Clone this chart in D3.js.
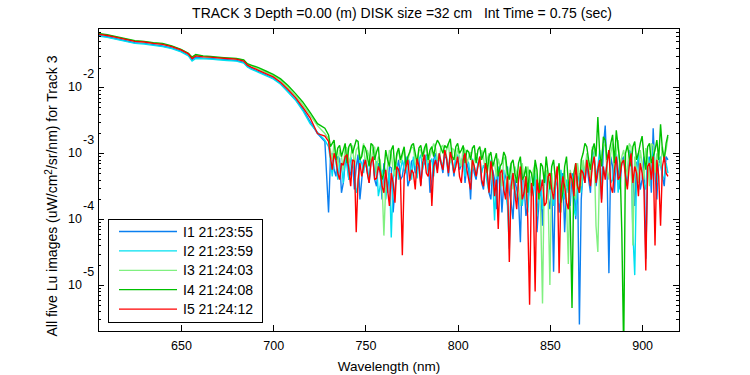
<!DOCTYPE html>
<html>
<head>
<meta charset="utf-8">
<script src="https://cdn.jsdelivr.net/npm/d3@7"></script>
<style>
body { margin: 0; background: #fff; }
text { font-family: "Liberation Sans", Arial, sans-serif; font-size: 12px; fill: #000; }
</style>
</head>
<body>
<svg id="chart" width="750" height="375"></svg>
<script>
// wavelengths (nm)
var wl = [605,610,615,620,625,630,635,640,645,650,654,656,658,662,666,670,675,680,684,686,
  688,692,696,700,704,708,712,716,720,724,728,
  730,731,732,733,734,735,736,737,738,739,
  740,741,742,743,744,745,746,747,748,749,
  750,751,752,753,754,755,756,757,758,759,
  760,761,762,763,764,765,766,767,768,769,
  770,771,772,773,774,775,776,777,778,779,
  780,781,782,783,784,785,786,787,788,789,
  790,791,792,793,794,795,796,797,798,799,
  800,801,802,803,804,805,806,807,808,809,
  810,811,812,813,814,815,816,817,818,819,
  820,821,822,823,824,825,826,827,828,829,
  830,831,832,833,834,835,836,837,838,839,
  840,841,842,843,844,845,846,847,848,849,
  850,851,852,853,854,855,856,857,858,859,
  860,861,862,863,864,865,866,867,868,869,
  870,871,872,873,874,875,876,877,878,879,
  880,881,882,883,884,885,886,887,888,889,
  890,891,892,893,894,895,896,897,898,899,
  900,901,902,903,904,905,906,907,908,909,
  910,911,912,913,914];

// log10 of Lu for each image (uW/cm^2/sr/nm)
var lu1 = [-1.21,-1.23,-1.26,-1.29,-1.32,-1.33,-1.35,-1.37,-1.40,-1.45,-1.51,-1.58,-1.54,-1.555,-1.56,-1.57,-1.58,-1.59,-1.62,-1.68,
  -1.71,-1.76,-1.81,-1.86,-1.94,-2.06,-2.18,-2.33,-2.52,-2.70,-2.82,
  -3.90,-3.10,-3.00,-3.25,-3.35,-3.05,-3.08,-3.60,-3.45,-3.15,
  -3.05,-3.40,-3.30,-3.12,-3.55,-3.20,-3.02,-3.70,-3.40,-3.10,
  -3.12,-3.28,-3.45,-3.10,-3.05,-3.40,-3.50,-3.15,-3.30,-3.70,
  -3.15,-3.35,-3.60,-3.20,-3.22,-3.90,-3.55,-3.25,-3.10,-3.40,
  -3.35,-3.15,-3.05,-3.50,-3.40,-3.12,-3.10,-3.30,-3.25,-3.08,
  -3.48,-3.20,-3.15,-3.02,-3.05,-3.60,-3.42,-3.10,-3.00,-3.25,
  -3.05,-3.15,-3.30,-3.00,-3.10,-3.35,-3.02,-3.12,-3.35,-3.05,
  -3.08,-3.25,-3.18,-3.02,-3.45,-3.15,-3.25,-3.70,-3.12,-3.30,
  -3.40,-3.15,-3.10,-3.45,-3.55,-3.20,-3.30,-3.60,-3.70,-3.25,
  -3.40,-3.85,-3.22,-3.30,-3.90,-3.45,-3.35,-3.20,-3.60,-3.75,
  -4.00,-3.40,-3.55,-3.70,-4.35,-3.30,-3.45,-3.95,-3.80,-3.35,
  -3.60,-3.40,-3.35,-4.20,-3.75,-3.50,-4.10,-3.30,-3.40,-3.65,
  -3.85,-3.45,-4.80,-3.35,-3.40,-3.90,-3.65,-3.30,-4.20,-3.55,
  -3.50,-3.80,-3.30,-3.45,-4.00,-3.35,-5.60,-3.70,-3.25,-3.45,
  -3.15,-3.40,-3.60,-2.95,-3.05,-3.50,-3.30,-3.10,-3.70,-2.90,
  -2.58,-3.30,-4.82,-3.05,-3.20,-3.60,-3.00,-3.25,-3.55,-3.10,
  -3.05,-3.30,-3.50,-2.95,-3.00,-3.40,-3.80,-3.15,-3.10,-3.55,
  -3.40,-3.05,-4.60,-3.20,-3.05,-3.60,-2.62,-3.30,-3.70,-3.10,
  -3.15,-3.35,-3.50,-3.05,-3.10];
var lu2 = [-1.22,-1.24,-1.27,-1.30,-1.33,-1.34,-1.36,-1.38,-1.41,-1.46,-1.52,-1.60,-1.56,-1.565,-1.57,-1.58,-1.59,-1.60,-1.63,-1.69,
  -1.72,-1.77,-1.82,-1.87,-1.95,-2.07,-2.19,-2.35,-2.55,-2.68,-2.80,
  -2.90,-3.10,-3.35,-3.05,-3.10,-3.40,-3.15,-3.20,-3.45,-3.05,
  -3.20,-3.40,-3.05,-3.15,-3.25,-3.60,-3.50,-3.10,-3.15,-3.30,
  -3.08,-3.20,-3.40,-3.10,-3.05,-3.35,-3.12,-3.65,-3.50,-3.25,
  -3.35,-3.70,-3.45,-3.30,-4.28,-3.40,-3.20,-3.15,-3.40,-3.25,
  -3.10,-3.25,-3.30,-3.05,-3.15,-3.40,-3.05,-3.20,-3.38,-3.10,
  -3.02,-3.25,-3.10,-3.05,-3.30,-3.15,-3.08,-3.35,-3.05,-3.12,
  -3.00,-3.12,-3.20,-2.95,-3.05,-3.25,-2.98,-3.15,-3.30,-3.05,
  -3.02,-3.20,-3.12,-3.05,-3.35,-3.10,-3.15,-3.40,-3.08,-3.20,
  -3.35,-3.15,-3.05,-3.30,-3.18,-3.25,-3.45,-3.60,-3.10,-3.40,
  -4.02,-3.30,-3.20,-3.55,-3.35,-3.25,-3.60,-3.80,-4.45,-3.35,
  -3.30,-3.55,-3.70,-3.40,-3.25,-3.80,-3.55,-3.35,-3.90,-3.45,
  -3.50,-3.65,-3.30,-3.95,-3.60,-3.40,-3.85,-3.50,-3.30,-3.70,
  -3.45,-3.60,-3.80,-3.40,-3.50,-3.75,-3.25,-3.55,-3.70,-3.40,
  -3.60,-3.30,-3.35,-3.85,-3.95,-3.45,-3.30,-3.60,-3.20,-3.35,
  -3.05,-3.30,-3.45,-3.10,-3.00,-3.35,-3.20,-2.95,-3.50,-3.25,
  -3.35,-3.10,-2.95,-3.45,-3.40,-3.05,-3.00,-3.60,-3.30,-3.15,
  -3.10,-3.25,-3.40,-3.00,-3.05,-4.20,-4.85,-3.30,-3.00,-3.20,
  -3.25,-3.45,-3.55,-3.05,-3.15,-3.35,-2.95,-3.20,-3.45,-3.10,
  -3.05,-3.40,-3.35,-3.15,-3.30];
var lu3 = [-1.185,-1.205,-1.235,-1.265,-1.295,-1.305,-1.325,-1.34,-1.375,-1.425,-1.485,-1.55,-1.51,-1.53,-1.535,-1.545,-1.555,-1.565,-1.59,-1.65,
  -1.67,-1.72,-1.77,-1.82,-1.89,-2.00,-2.12,-2.26,-2.42,-2.58,-2.70,
  -2.78,-2.95,-3.10,-2.85,-2.98,-3.20,-2.95,-3.05,-3.25,-2.90,
  -2.92,-3.15,-3.05,-2.88,-3.20,-2.95,-2.90,-3.10,-3.00,-2.85,
  -3.20,-2.95,-3.05,-3.15,-2.95,-2.90,-3.30,-3.05,-3.10,-3.45,
  -4.25,-3.50,-3.20,-2.95,-3.00,-3.25,-3.35,-3.05,-2.95,-3.15,
  -3.05,-2.95,-3.25,-3.10,-3.00,-2.90,-2.92,-3.15,-3.20,-2.95,
  -2.95,-3.10,-2.98,-2.88,-3.15,-3.05,-2.95,-2.85,-2.92,-3.10,
  -3.10,-2.90,-2.88,-3.05,-2.95,-2.85,-3.15,-2.92,-2.95,-3.10,
  -2.92,-3.05,-3.20,-2.90,-2.95,-3.15,-3.05,-2.98,-3.25,-3.10,
  -3.00,-3.10,-3.20,-2.95,-3.05,-3.30,-3.10,-3.00,-3.40,-3.15,
  -3.15,-3.35,-3.08,-3.20,-3.50,-3.05,-3.10,-3.60,-3.25,-3.15,
  -3.55,-3.20,-3.30,-3.50,-3.80,-3.15,-3.40,-3.70,-3.20,-3.35,
  -3.65,-3.25,-3.15,-3.55,-3.45,-3.90,-5.28,-3.30,-3.25,-3.60,
  -5.00,-3.30,-3.60,-3.45,-3.35,-3.20,-3.90,-3.55,-3.25,-3.70,
  -4.68,-3.25,-3.40,-3.60,-3.70,-3.15,-3.35,-3.50,-3.10,-3.30,
  -3.00,-3.20,-3.40,-2.90,-2.95,-4.10,-4.50,-3.15,-3.05,-2.85,
  -2.90,-3.25,-3.40,-3.00,-2.85,-3.30,-3.00,-2.80,-3.30,-3.05,
  -2.95,-3.20,-3.35,-2.85,-2.90,-4.40,-3.05,-3.25,-3.45,-2.95,
  -3.15,-3.40,-2.92,-3.10,-3.50,-2.85,-2.88,-3.30,-3.00,-3.15,
  -3.20,-2.90,-3.05,-2.95,-2.75];
var lu4 = [-1.18,-1.20,-1.23,-1.26,-1.29,-1.30,-1.32,-1.33,-1.37,-1.42,-1.48,-1.54,-1.50,-1.52,-1.53,-1.54,-1.55,-1.56,-1.58,-1.64,
  -1.66,-1.70,-1.75,-1.80,-1.87,-1.97,-2.09,-2.22,-2.38,-2.55,-2.62,
  -2.72,-2.90,-2.85,-2.80,-3.10,-2.92,-2.88,-3.05,-2.95,-2.85,
  -3.15,-2.90,-2.85,-3.00,-2.90,-2.80,-2.82,-3.10,-3.05,-2.88,
  -2.92,-3.05,-3.20,-2.85,-2.88,-3.10,-2.98,-2.90,-3.25,-3.40,
  -3.30,-2.95,-3.10,-3.20,-2.95,-2.88,-3.25,-3.00,-2.92,-3.10,
  -3.00,-2.90,-3.20,-3.05,-2.98,-2.88,-2.85,-3.00,-3.15,-2.92,
  -2.88,-3.05,-2.92,-2.85,-3.10,-2.95,-2.90,-3.05,-2.88,-2.80,
  -2.85,-2.92,-3.00,-2.88,-2.92,-2.85,-2.78,-3.05,-3.10,-2.90,
  -2.85,-3.00,-2.95,-2.88,-3.15,-2.95,-2.98,-3.10,-2.92,-2.88,
  -3.15,-2.95,-2.90,-3.10,-3.00,-2.92,-3.30,-3.05,-2.98,-3.20,
  -3.10,-3.00,-3.35,-3.20,-3.15,-2.98,-3.05,-3.30,-3.40,-3.15,
  -3.10,-3.30,-3.45,-3.15,-3.05,-3.40,-3.35,-3.20,-3.60,-3.25,
  -3.30,-3.50,-3.10,-3.25,-3.70,-3.15,-3.20,-3.45,-3.05,-3.30,
  -3.55,-3.20,-3.10,-3.40,-3.30,-3.15,-3.75,-3.60,-3.20,-3.05,
  -3.45,-3.90,-5.35,-3.30,-3.15,-3.50,-3.60,-3.10,-3.00,-2.85,
  -2.90,-3.10,-3.25,-2.95,-2.85,-3.05,-2.45,-3.00,-3.20,-2.75,
  -2.80,-3.10,-3.00,-2.85,-2.72,-3.15,-2.65,-2.90,-3.15,-4.20,
  -6.00,-3.00,-2.88,-3.05,-3.20,-2.90,-2.82,-3.10,-3.00,-2.85,
  -2.74,-3.05,-3.25,-2.90,-2.85,-3.15,-3.05,-2.95,-2.80,-3.10,
  -2.56,-2.95,-3.10,-2.85,-2.72];
var lu5 = [-1.19,-1.21,-1.24,-1.27,-1.30,-1.31,-1.33,-1.345,-1.38,-1.43,-1.49,-1.56,-1.52,-1.535,-1.54,-1.55,-1.56,-1.57,-1.60,-1.66,
  -1.69,-1.74,-1.79,-1.84,-1.92,-2.03,-2.15,-2.30,-2.46,-2.70,-2.74,
  -2.82,-3.05,-3.25,-3.00,-3.10,-3.30,-3.40,-3.15,-3.18,-3.05,
  -3.02,-3.25,-3.50,-3.10,-3.12,-4.20,-3.40,-3.15,-3.35,-3.20,
  -3.10,-3.30,-3.45,-3.15,-3.05,-3.40,-3.38,-3.20,-3.28,-3.50,
  -3.60,-3.25,-3.55,-3.80,-3.30,-3.45,-3.75,-3.20,-3.25,-3.40,
  -4.55,-3.35,-3.20,-3.10,-3.42,-3.25,-3.30,-3.55,-3.08,-3.20,
  -3.50,-3.15,-3.02,-3.30,-3.35,-3.10,-3.80,-3.20,-3.10,-3.30,
  -3.00,-3.15,-3.25,-2.95,-3.08,-3.30,-2.98,-3.10,-3.30,-3.20,
  -3.05,-3.35,-3.45,-3.10,-3.00,-3.25,-3.40,-3.55,-3.10,-3.20,
  -3.35,-3.20,-3.05,-3.40,-3.50,-3.15,-3.28,-3.60,-3.12,-3.30,
  -3.65,-3.40,-4.15,-3.30,-3.25,-3.55,-3.70,-3.35,-4.65,-3.50,
  -3.30,-3.60,-3.85,-3.40,-3.20,-3.70,-3.60,-3.35,-4.00,-5.30,
  -3.45,-3.65,-5.10,-3.40,-3.60,-3.55,-3.40,-3.80,-3.75,-3.35,
  -3.30,-3.55,-3.70,-3.40,-3.20,-4.82,-3.60,-3.35,-3.50,-3.75,
  -3.85,-3.30,-3.40,-3.65,-3.15,-3.50,-3.60,-3.25,-3.30,-3.45,
  -3.10,-3.30,-3.50,-3.20,-3.05,-3.45,-3.25,-3.10,-3.75,-3.20,
  -3.40,-3.15,-2.95,-3.50,-3.60,-3.25,-3.05,-3.40,-3.35,-3.15,
  -3.10,-3.35,-3.55,-3.20,-3.00,-3.45,-3.20,-3.30,-3.65,-3.15,
  -3.30,-3.55,-4.78,-3.20,-3.15,-3.40,-3.05,-4.40,-3.10,-3.35,
  -4.10,-3.20,-3.05,-3.30,-3.35];

var series = [lu1, lu2, lu3, lu4, lu5];
var names = ["I1 21:23:55", "I2 21:23:59", "I3 21:24:03", "I4 21:24:08", "I5 21:24:12"];
var colors = ["#0a7ff0", "#00e0f0", "#80f080", "#00c000", "#ff0000"];
var xTicks = [650, 700, 750, 800, 850, 900];
var yExp = [-5, -4, -3, -2];

var title = "TRACK 3 Depth =0.00 (m) DISK size =32 cm   Int Time = 0.75 (sec)";

var pLeft = 98, pRight = 679, pTop = 28, pBottom = 331;

var svg = d3.select("#chart");

var x = d3.scaleLinear().domain([605, 920]).range([pLeft, pRight]);
var y = d3.scaleLog().domain([2e-6, 0.08]).range([pBottom, pTop]);

svg.append("clipPath").attr("id", "plotclip")
  .append("rect")
  .attr("x", pLeft).attr("y", pTop)
  .attr("width", pRight - pLeft).attr("height", pBottom - pTop);

var line = d3.line()
  .x(function(d, i) { return x(wl[i]); })
  .y(function(d) { return y(Math.pow(10, d)); });

svg.append("g").attr("clip-path", "url(#plotclip)")
  .selectAll("path")
  .data(series)
  .enter()
  .append("path")
  .attr("d", line)
  .attr("fill", "none")
  .attr("stroke", function(d, i) { return colors[i]; })
  .attr("stroke-width", 1.4)
  .attr("stroke-linejoin", "miter")
  .attr("stroke-miterlimit", 2);

// ticks
var majors = yExp.map(function(e) { return Math.pow(10, e); });
var minors = y.ticks().filter(function(v) {
  var e = Math.log10(v);
  return Math.abs(e - Math.round(e)) > 1e-6;
});

function styleAxis(g) {
  g.select(".domain").remove();
  g.selectAll("line").attr("stroke", "#000").attr("shape-rendering", "crispEdges");
  g.selectAll("text").style("font-family", "\"Liberation Sans\", Arial, sans-serif").style("font-size", "12.5px");
}

svg.append("g").attr("transform", "translate(0," + pBottom + ")")
  .call(d3.axisBottom(x).tickValues(xTicks).tickSize(-6).tickPadding(10).tickFormat(d3.format("d")))
  .call(styleAxis);
svg.append("g").attr("transform", "translate(0," + pTop + ")")
  .call(d3.axisTop(x).tickValues(xTicks).tickSize(-6).tickFormat(""))
  .call(styleAxis);

[[majors, 6], [minors, 3]].forEach(function(t) {
  svg.append("g").attr("transform", "translate(" + pLeft + ",0)")
    .call(d3.axisLeft(y).tickValues(t[0]).tickSize(-t[1]).tickFormat(""))
    .call(styleAxis);
  svg.append("g").attr("transform", "translate(" + pRight + ",0)")
    .call(d3.axisRight(y).tickValues(t[0]).tickSize(-t[1]).tickFormat(""))
    .call(styleAxis);
});

// y tick labels 10^n
var ylab = svg.append("g");
yExp.forEach(function(e) {
  var yy = y(Math.pow(10, e));
  ylab.append("text").attr("x", 82).attr("y", yy + 4).attr("text-anchor", "end")
    .style("font-size", "12.5px").text("10");
  ylab.append("text").attr("x", 83).attr("y", yy - 9)
    .style("font-size", "12.5px").text(String(e));
});

// box
svg.append("rect")
  .attr("x", pLeft).attr("y", pTop)
  .attr("width", pRight - pLeft).attr("height", pBottom - pTop)
  .attr("fill", "none").attr("stroke", "#000")
  .attr("shape-rendering", "crispEdges");

// title & labels
svg.append("text")
  .attr("x", 402).attr("y", 18)
  .attr("text-anchor", "middle")
  .attr("xml:space", "preserve")
  .style("white-space", "pre")
  .style("font-size", "14px")
  .text(title);

svg.append("text")
  .attr("x", 389).attr("y", 371)
  .attr("text-anchor", "middle")
  .style("font-size", "13.5px")
  .text("Wavelength (nm)");

var yl = svg.append("text")
  .attr("transform", "translate(57,196) rotate(-90)")
  .attr("text-anchor", "middle")
  .style("font-size", "14px");
yl.append("tspan").text("All five Lu images (uW/cm");
yl.append("tspan").attr("dy", -5).style("font-size", "10px").text("2");
yl.append("tspan").attr("dy", 5).text("/sr/nm) for Track 3");

// legend
var lg = svg.append("g");
lg.append("rect")
  .attr("x", 108.5).attr("y", 219.5).attr("width", 154).attr("height", 103)
  .attr("fill", "#fff").attr("stroke", "#000")
  .attr("shape-rendering", "crispEdges");
names.forEach(function(n, i) {
  var ry = 231.5 + i * 19.4;
  lg.append("line")
    .attr("x1", 119).attr("x2", 177)
    .attr("y1", ry).attr("y2", ry)
    .attr("stroke", colors[i]).attr("stroke-width", 1.3);
  lg.append("text")
    .attr("x", 183).attr("y", ry + 5)
    .style("font-size", "14px")
    .text(n);
});
</script>
</body>
</html>
